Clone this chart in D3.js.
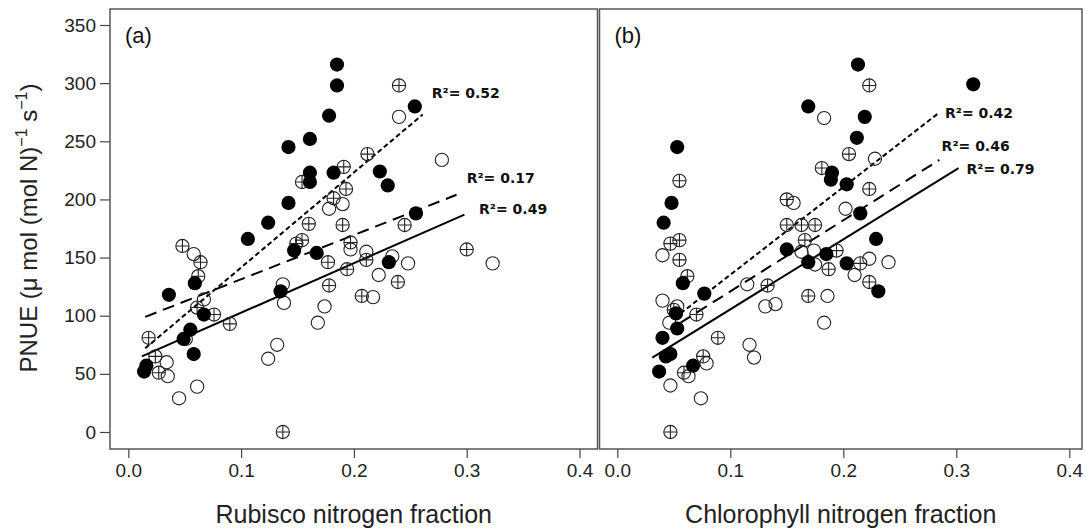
<!DOCTYPE html>
<html>
<head>
<meta charset="utf-8">
<script src="https://cdn.jsdelivr.net/npm/d3@7"></script>
<style>
  body { margin: 0; background: #fff; }
  svg { display: block; }
</style>
</head>
<body>
<div id="chart"></div>
<script>
"use strict";

// panel (a): Rubisco nitrogen fraction vs PNUE
const rubiscoFilled = [[0.014,52],[0.016,57],[0.036,118],[0.049,80],[0.055,88],[0.058,67],[0.059,128],[0.067,101],
  [0.106,166],[0.124,180],[0.135,121],[0.142,197],[0.142,245],[0.147,156],[0.161,252],[0.161,223],[0.161,215],
  [0.167,154],[0.178,272],[0.185,298],[0.185,316],[0.182,223],[0.223,224],[0.230,212],[0.231,146],[0.254,280],[0.255,188]];
const rubiscoOpen = [[0.034,60],[0.035,48],[0.045,29],[0.061,39],[0.067,114],[0.051,80],[0.058,153],[0.124,63],
  [0.132,75],[0.137,127],[0.138,111],[0.168,94],[0.174,108],[0.178,192],[0.190,196],[0.197,157],[0.211,155],
  [0.217,116],[0.222,135],[0.234,151],[0.248,145],[0.240,271],[0.278,234],[0.323,145]];
const rubiscoCrossed = [[0.018,81],[0.024,65],[0.027,51],[0.061,107],[0.062,134],[0.064,146],[0.048,160],[0.076,101],
  [0.090,93],[0.137,0],[0.154,215],[0.160,179],[0.154,165],[0.149,162],[0.191,228],[0.193,209],[0.182,201],
  [0.212,239],[0.190,178],[0.197,163],[0.177,146],[0.194,140],[0.211,148],[0.178,126],[0.207,117],[0.239,129],
  [0.245,178],[0.240,298],[0.300,157]];
const rubiscoFits = [
  { dash: "5,3", pts: [[0.015,72],[0.261,273]] },
  { dash: "12,7", pts: [[0.015,99],[0.291,204]] },
  { dash: null, pts: [[0.012,65],[0.298,187]] }
];
const rubiscoR2 = [["0.52",0.269,291.5],["0.17",0.300,218.4],["0.49",0.311,191.7]];

// panel (b): Chlorophyll nitrogen fraction vs PNUE
const chlFilled = [[0.053,245],[0.048,197],[0.041,180],[0.058,128],[0.077,119],[0.052,102],[0.053,89],[0.040,81],
  [0.047,67],[0.043,65],[0.037,52],[0.067,57],[0.169,280],[0.213,316],[0.219,271],[0.212,253],[0.190,223],
  [0.189,217],[0.203,213],[0.215,188],[0.229,166],[0.150,157],[0.185,153],[0.169,146],[0.203,145],[0.231,121],[0.315,299]];
const chlOpen = [[0.040,152],[0.040,113],[0.053,108],[0.046,94],[0.047,40],[0.074,29],[0.079,59],[0.063,48],
  [0.115,127],[0.131,108],[0.140,110],[0.117,75],[0.121,64],[0.183,270],[0.228,235],[0.156,197],[0.202,192],
  [0.174,156],[0.163,155],[0.175,144],[0.223,149],[0.240,146],[0.210,135],[0.186,117],[0.183,94]];
const chlCrossed = [[0.055,216],[0.047,162],[0.055,165],[0.055,148],[0.062,134],[0.050,105],[0.070,101],[0.089,81],
  [0.076,65],[0.059,51],[0.047,0],[0.133,126],[0.223,298],[0.205,239],[0.181,227],[0.223,209],[0.150,200],
  [0.150,178],[0.163,178],[0.175,178],[0.166,165],[0.194,156],[0.187,140],[0.215,145],[0.223,129],[0.169,117]];
const chlFits = [
  { dash: "5,3", pts: [[0.056,102],[0.284,274]] },
  { dash: "12,7", pts: [[0.056,94],[0.285,234]] },
  { dash: null, pts: [[0.031,64],[0.302,227]] }
];
const chlR2 = [["0.42",0.290,274.3],["0.46",0.287,245.9],["0.79",0.309,226.1]];

const xTicks = [0, 0.1, 0.2, 0.3, 0.4];
const yTicks = [0, 50, 100, 150, 200, 250, 300, 350];

const W = 1086, H = 531;
const plotTop = 9, plotBottom = 449;
const font = "'Liberation Sans', Arial, sans-serif";

const svg = d3.select("#chart").append("svg")
  .attr("width", W)
  .attr("height", H);

const y = d3.scaleLinear().domain([0, 350]).range([432, 25]);

const panels = [
  { tag: "(a)", left: 110, right: 597.5, range: [128.3, 579.5], title: "Rubisco nitrogen fraction",
    filled: rubiscoFilled, open: rubiscoOpen, crossed: rubiscoCrossed, fits: rubiscoFits, r2: rubiscoR2, yAxis: true },
  { tag: "(b)", left: 599.5, right: 1082, range: [617.3, 1069.3], title: "Chlorophyll nitrogen fraction",
    filled: chlFilled, open: chlOpen, crossed: chlCrossed, fits: chlFits, r2: chlR2, yAxis: false }
];

const r = 6.6;

panels.forEach(p => {
  const x = d3.scaleLinear().domain([0, 0.4]).range(p.range);
  const g = svg.append("g");

  // x axis
  const xa = g.append("g")
    .attr("transform", `translate(0,${plotBottom})`)
    .call(d3.axisBottom(x).tickValues(xTicks).tickFormat(d3.format(".1f")).tickSize(9).tickPadding(6));
  xa.select(".domain").remove();
  xa.selectAll("line").attr("stroke", "#444").attr("stroke-width", 1.2);
  xa.selectAll("text").attr("font-family", font).attr("font-size", 19).attr("fill", "#222");

  if (p.yAxis) {
    const ya = g.append("g")
      .attr("transform", `translate(${p.left},0)`)
      .call(d3.axisLeft(y).tickValues(yTicks).tickSize(10).tickPadding(4));
    ya.select(".domain").remove();
    ya.selectAll("line").attr("stroke", "#444").attr("stroke-width", 1.2);
    ya.selectAll("text").attr("font-family", font).attr("font-size", 19).attr("fill", "#222");
  }

  // regression lines
  const line = d3.line().x(d => x(d[0])).y(d => y(d[1]));
  g.selectAll(".fit")
    .data(p.fits)
    .join("path")
    .attr("class", "fit")
    .attr("d", d => line(d.pts))
    .attr("fill", "none")
    .attr("stroke", "#000")
    .attr("stroke-width", 2)
    .attr("stroke-dasharray", d => d.dash);

  // open circles
  g.selectAll(".open")
    .data(p.open)
    .join("circle")
    .attr("class", "open")
    .attr("cx", d => x(d[0]))
    .attr("cy", d => y(d[1]))
    .attr("r", r)
    .attr("fill", "none")
    .attr("stroke", "#222")
    .attr("stroke-width", 1.1);

  // circles with cross
  const cr = g.selectAll(".crossed")
    .data(p.crossed)
    .join("g")
    .attr("class", "crossed")
    .attr("transform", d => `translate(${x(d[0])},${y(d[1])})`);
  cr.append("circle").attr("r", r).attr("fill", "none").attr("stroke", "#222").attr("stroke-width", 1.1);
  cr.append("path").attr("d", `M${-r},0H${r}M0,${-r}V${r}`).attr("stroke", "#222").attr("stroke-width", 1.1);

  // filled circles
  g.selectAll(".filled")
    .data(p.filled)
    .join("circle")
    .attr("class", "filled")
    .attr("cx", d => x(d[0]))
    .attr("cy", d => y(d[1]))
    .attr("r", r + 0.5)
    .attr("fill", "#000");

  // R2 labels
  g.selectAll(".r2")
    .data(p.r2)
    .join("text")
    .attr("class", "r2")
    .attr("x", d => x(d[1]))
    .attr("y", d => y(d[2]))
    .attr("dy", "0.36em")
    .attr("font-family", "'DejaVu Sans', Verdana, sans-serif")
    .attr("font-weight", "bold")
    .attr("font-size", 14)
    .attr("fill", "#111")
    .text(d => "R\u00B2= " + d[0]);

  // frame
  g.append("rect")
    .attr("x", p.left)
    .attr("y", plotTop)
    .attr("width", p.right - p.left)
    .attr("height", plotBottom - plotTop)
    .attr("fill", "none")
    .attr("stroke", "#555")
    .attr("stroke-width", 1.5);

  g.append("text")
    .attr("x", p.left + 15)
    .attr("y", 43)
    .attr("font-family", font)
    .attr("font-size", 22)
    .attr("fill", "#111")
    .text(p.tag);

  g.append("text")
    .attr("x", (p.left + p.right) / 2)
    .attr("y", 523)
    .attr("text-anchor", "middle")
    .attr("font-family", font)
    .attr("font-size", 25)
    .attr("fill", "#222")
    .text(p.title);
});

// y axis title
const yt = svg.append("text")
  .attr("transform", "translate(37,228) rotate(-90)")
  .attr("text-anchor", "middle")
  .attr("font-family", font)
  .attr("font-size", 24)
  .attr("fill", "#222");
yt.append("tspan").text("PNUE (\u03BC mol (mol N)");
yt.append("tspan").attr("dy", -10).attr("font-size", 16).text("\u22121");
yt.append("tspan").attr("dy", 10).text(" s");
yt.append("tspan").attr("dy", -10).attr("font-size", 16).text("\u22121");
yt.append("tspan").attr("dy", 10).text(")");
</script>
</body>
</html>
